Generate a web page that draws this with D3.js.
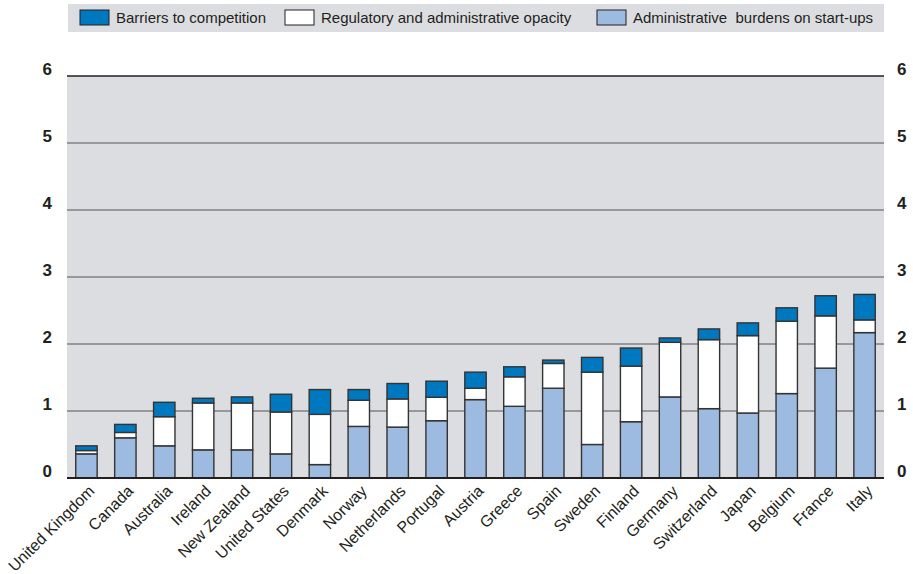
<!DOCTYPE html>
<html>
<head>
<meta charset="utf-8">
<script src="https://cdn.jsdelivr.net/npm/d3@7"></script>
<style>
  body { margin: 0; background: #fff; }
  text { font-family: "Liberation Sans", Arial, sans-serif; fill: #231f20; }
</style>
</head>
<body>
<div id="chart"></div>
<script>
const countries = ["United Kingdom", "Canada", "Australia", "Ireland", "New Zealand", "United States",
    "Denmark", "Norway", "Netherlands", "Portugal", "Austria", "Greece", "Spain", "Sweden",
    "Finland", "Germany", "Switzerland", "Japan", "Belgium", "France", "Italy"];
const adminBurdens = [0.36, 0.60, 0.48, 0.42, 0.42, 0.36, 0.20, 0.77, 0.76, 0.855, 1.17, 1.07, 1.34, 0.50,
    0.84, 1.21, 1.035, 0.97, 1.26, 1.64, 2.17];
const opacity = [0.05, 0.08, 0.435, 0.70, 0.70, 0.625, 0.75, 0.39, 0.42, 0.35, 0.17, 0.44, 0.37, 1.08,
    0.83, 0.815, 1.03, 1.155, 1.08, 0.78, 0.19];
const barriers = [0.07, 0.12, 0.215, 0.07, 0.09, 0.265, 0.37, 0.16, 0.23, 0.24, 0.24, 0.15, 0.05, 0.22,
    0.27, 0.065, 0.16, 0.19, 0.20, 0.30, 0.38];
const yTicks = [0, 1, 2, 3, 4, 5, 6];

const seriesKeys = ["admin", "opacity", "barriers"];
const seriesColor = {admin: "#9dbbe1", opacity: "#ffffff", barriers: "#0078c0"};
const legendItems = [
    {key: "barriers", label: "Barriers to competition"},
    {key: "opacity", label: "Regulatory and administrative opacity"},
    {key: "admin", label: "Administrative  burdens on start-ups"}
];

const data = countries.map((c, i) => ({
    country: c, admin: adminBurdens[i], opacity: opacity[i], barriers: barriers[i]
}));

const svg = d3.select("#chart").append("svg")
    .attr("width", 913)
    .attr("height", 574);

const margin = {top: 76, right: 29, bottom: 96, left: 67};
const width = 913 - margin.left - margin.right;
const height = 574 - margin.top - margin.bottom;

const g = svg.append("g").attr("transform", `translate(${margin.left},${margin.top})`);

const x = d3.scaleBand()
    .domain(countries)
    .range([0, width])
    .paddingInner(0.45)
    .paddingOuter(0.225);

const y = d3.scaleLinear()
    .domain([0, 6])
    .range([height, 0]);

// legend
const legend = svg.append("g");
legend.append("rect")
    .attr("x", 68).attr("y", 4)
    .attr("width", 816).attr("height", 28)
    .attr("fill", "#dcdde0");
const legendX = [80, 285, 597];
legendItems.forEach((item, i) => {
    const lg = legend.append("g").attr("transform", `translate(${legendX[i]},10)`);
    lg.append("rect")
        .attr("width", 29).attr("height", 15)
        .attr("fill", seriesColor[item.key])
        .attr("stroke", "#231f20").attr("stroke-width", 1);
    lg.append("text")
        .attr("x", 36).attr("y", 13)
        .style("font-size", "15px")
        .style("white-space", "pre")
        .text(item.label);
});

// plot background
g.append("rect")
    .attr("width", width)
    .attr("height", height)
    .attr("fill", "#dcdde0");

// gridlines
g.append("g")
    .selectAll("line")
    .data(yTicks.filter(t => t > 0))
    .join("line")
    .attr("x1", 0).attr("x2", width)
    .attr("y1", d => y(d)).attr("y2", d => y(d))
    .attr("stroke", d => d === 6 ? "#231f20" : "#555")
    .attr("stroke-width", d => d === 6 ? 1.6 : 1);

// bars
const stack = d3.stack().keys(seriesKeys);
const stacked = stack(data);

g.append("g")
    .selectAll("g")
    .data(stacked)
    .join("g")
    .attr("fill", d => seriesColor[d.key])
    .selectAll("rect")
    .data(d => d)
    .join("rect")
    .attr("x", d => x(d.data.country))
    .attr("y", d => y(d[1]))
    .attr("width", x.bandwidth())
    .attr("height", d => y(d[0]) - y(d[1]))
    .attr("stroke", "#333")
    .attr("stroke-width", 1.4);

// baseline
g.append("line")
    .attr("x1", 0).attr("x2", width)
    .attr("y1", y(0)).attr("y2", y(0))
    .attr("stroke", "#231f20")
    .attr("stroke-width", 2);

// y axes, left and right
const yLeft = g.append("g")
    .call(d3.axisLeft(y).tickValues(yTicks).tickFormat(d3.format("d")).tickSize(0).tickPadding(15));
const yRight = g.append("g")
    .attr("transform", `translate(${width},0)`)
    .call(d3.axisRight(y).tickValues(yTicks).tickFormat(d3.format("d")).tickSize(0).tickPadding(13));
[yLeft, yRight].forEach(ax => {
    ax.select(".domain").remove();
    ax.selectAll("text")
        .attr("dy", "-0.1em")
        .style("font-size", "17px")
        .style("font-weight", "bold")
        .attr("fill", "#231f20");
});

// x axis labels
const xAxis = g.append("g")
    .attr("transform", `translate(0,${height})`)
    .call(d3.axisBottom(x).tickSize(0).tickPadding(0));
xAxis.select(".domain").remove();
xAxis.selectAll("text")
    .style("font-size", "16px")
    .attr("fill", "#231f20")
    .attr("text-anchor", "end")
    .attr("dy", "0")
    .attr("transform", "translate(9,14) rotate(-45)");
</script>
</body>
</html>
